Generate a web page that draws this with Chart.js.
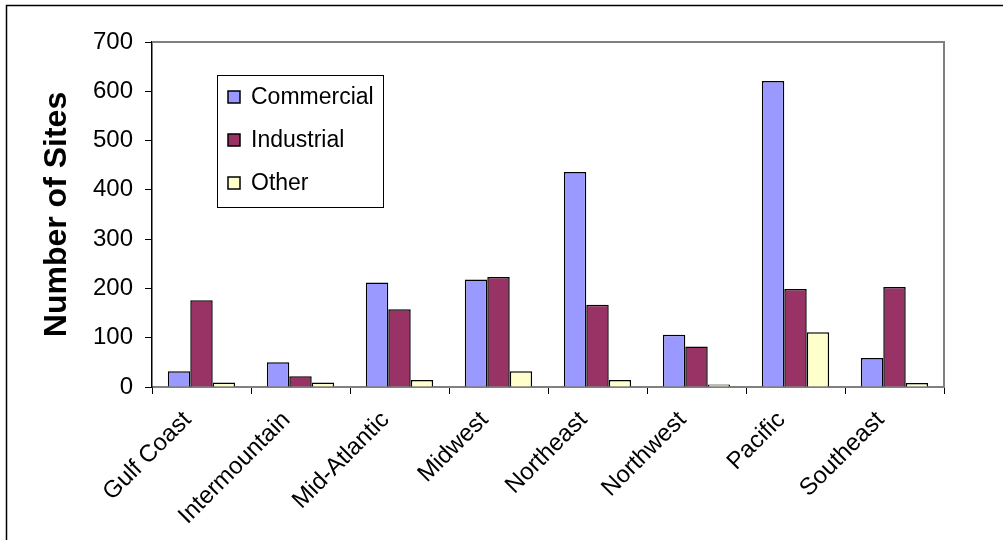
<!DOCTYPE html>
<html>
<head>
<meta charset="utf-8">
<script src="https://cdn.jsdelivr.net/npm/chart.js@4"></script>
<style>
  html, body { margin: 0; padding: 0; background: #fff; }
  #wrap { width: 1003px; height: 540px; position: relative; }
</style>
</head>
<body>
<div id="wrap"><canvas id="sites"></canvas></div>
<script>
/* Sites by region, grouped bars */

const REGIONS = ['Gulf Coast', 'Intermountain', 'Mid-Atlantic', 'Midwest', 'Northeast', 'Northwest', 'Pacific', 'Southeast'];
const COMMERCIAL = [32, 50, 212, 218, 436, 106, 621, 59];
const INDUSTRIAL = [176, 22, 158, 223, 167, 82, 199, 203];
const OTHER = [9, 9, 14, 32, 14, 5, 111, 8];
const Y_TICKS = [0, 100, 200, 300, 400, 500, 600, 700];

const COLORS = {
    commercial: '#9999FF',
    industrial: '#993366',
    other: '#FFFFCC',
    axis: '#808080',
};

const FONT = 'Arial, "Liberation Sans", sans-serif';

// outer frame, plot frame and legend box
const framePlugin = {
    id: 'frame',
    beforeDraw(chart) {
        const ctx = chart.ctx;
        ctx.save();
        ctx.fillStyle = '#fff';
        ctx.fillRect(0, 0, chart.width, chart.height);
        ctx.strokeStyle = '#000';
        ctx.lineWidth = 1.5;
        ctx.strokeRect(6.5, 5.5, chart.width + 10, chart.height + 10);
        ctx.restore();
    },
    afterDatasetsDraw(chart) {
        const { ctx, chartArea: a } = chart;
        ctx.save();
        ctx.strokeStyle = COLORS.axis;
        ctx.lineWidth = 2;
        ctx.beginPath();
        ctx.moveTo(a.left, a.top);
        ctx.lineTo(a.right, a.top);
        ctx.lineTo(a.right, a.bottom);
        ctx.stroke();

        // legend
        const bx = 217, by = 75, bw = 166, bh = 132;
        ctx.fillStyle = '#fff';
        ctx.fillRect(bx, by, bw, bh);
        ctx.strokeStyle = '#000';
        ctx.lineWidth = 1;
        ctx.strokeRect(bx + 0.5, by + 0.5, bw, bh);
        ctx.font = '23px ' + FONT;
        ctx.textBaseline = 'middle';
        const rows = [97, 140, 183];
        chart.data.datasets.forEach((ds, i) => {
            const y = rows[i];
            ctx.fillStyle = ds.backgroundColor;
            ctx.fillRect(228, y - 6, 12, 12);
            ctx.lineWidth = 1.5;
            ctx.strokeStyle = '#000';
            ctx.strokeRect(228, y - 6, 12, 12);
            ctx.fillStyle = '#000';
            ctx.fillText(ds.label, 251, y + 1);
        });
        ctx.restore();
    },
};

function makeDataset(label, data, color) {
    return {
        label,
        data,
        backgroundColor: color,
        borderColor: '#000',
        borderWidth: 1.5,
        barPercentage: 1.0,
        categoryPercentage: 0.68,
    };
}

new Chart(document.getElementById('sites'), {
    type: 'bar',
    data: {
        labels: REGIONS,
        datasets: [
            makeDataset('Commercial', COMMERCIAL, COLORS.commercial),
            makeDataset('Industrial', INDUSTRIAL, COLORS.industrial),
            makeDataset('Other', OTHER, COLORS.other),
        ],
    },
    plugins: [framePlugin],
    options: {
        responsive: true,
        maintainAspectRatio: false,
        animation: false,
        layout: { padding: { left: 20, top: 42, right: 59, bottom: 0 } },
        plugins: {
            legend: { display: false },
            tooltip: { enabled: false },
        },
        scales: {
            x: {
                offset: true,
                grid: {
                    display: true,
                    offset: true,
                    drawOnChartArea: false,
                    drawTicks: true,
                    tickLength: 7,
                    tickColor: '#000',
                },
                border: { color: COLORS.axis, width: 2 },
                ticks: {
                    autoSkip: false,
                    minRotation: 45,
                    maxRotation: 45,
                    padding: 12,
                    labelOffset: -14,
                    color: '#000',
                    font: { family: FONT, size: 24 },
                },
                afterFit(scale) { scale.height = 540 - 387; },
            },
            y: {
                min: 0,
                max: 700,
                afterBuildTicks(scale) { scale.ticks = Y_TICKS.map(v => ({ value: v })); },
                grid: {
                    display: true,
                    drawOnChartArea: false,
                    drawTicks: true,
                    tickLength: 7,
                    tickColor: '#000',
                },
                border: { color: '#000', width: 1.5 },
                ticks: {
                    padding: 12,
                    color: '#000',
                    font: { family: FONT, size: 24 },
                },
                title: {
                    display: true,
                    text: 'Number of Sites',
                    color: '#000',
                    padding: { top: 18, bottom: 0 },
                    font: { family: FONT, size: 32, weight: 'bold' },
                },
                afterFit(scale) { scale.width = 152 - 20; },
            },
        },
    },
});
</script>
</body>
</html>
